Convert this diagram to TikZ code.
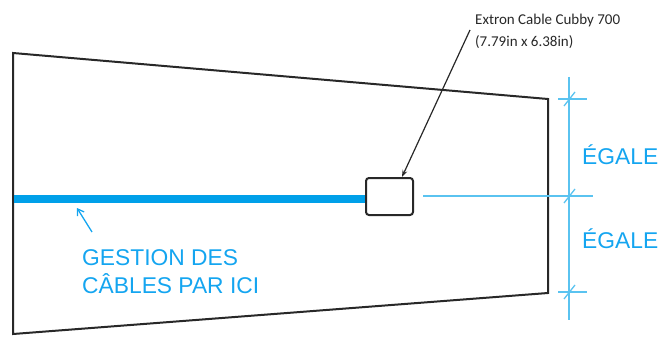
\documentclass[tikz,border=0pt]{standalone}
\usepackage{fontspec}
\setmainfont{Liberation Sans}
\newfontfamily\calib{Carlito}
\usetikzlibrary{arrows.meta}
\definecolor{cblue}{RGB}{0,160,233}
\definecolor{tblue}{RGB}{20,165,240}
\definecolor{dblue}{RGB}{90,195,240}
\definecolor{dgray}{RGB}{40,40,40}
\tikzset{
  outline/.style={draw=dgray, line width=2pt, line join=miter},
  dimline/.style={draw=dblue, line width=1.6pt},
  bluetext/.style={text=tblue, font=\fontsize{22.8}{28}\selectfont, inner sep=0pt, anchor=base west},
  notetext/.style={text=dgray, font=\calib\fontsize{15}{18}\selectfont, inner sep=0pt, anchor=base west},
  cubbybox/.style={draw=dgray, line width=2pt, rounded corners=3pt, minimum width=47pt, minimum height=37pt, inner sep=0pt, fill=white},
}
\begin{document}
\begin{tikzpicture}[x=1pt,y=-1pt]
\useasboundingbox (0,0) rectangle (659,337);
% trapezoid outline
\coordinate (tl) at (13,53);
\coordinate (tr) at (548,99);
\coordinate (br) at (548,293);
\coordinate (bl) at (13,334);
\draw[outline] (tl) -- (tr) -- (br) -- (bl) -- cycle;
% cubby box
\node[cubbybox] (cubby) at (389.5,196.5) {};
% thick cable line
\coordinate (cablestart) at (14,198.5);
\draw[draw=cblue, line width=8pt] (cablestart) -- (cubby.west |- cablestart);
% thin center line
\coordinate (midL) at (423,196);
\coordinate (midR) at (593,196);
\draw[dimline] (midL) -- (midR);
% dimension line
\coordinate (dtop) at (569,77);
\coordinate (dbot) at (569,320);
\draw[dimline] (dtop) -- (dbot);
\coordinate (t1L) at (558,99);  \coordinate (t1R) at (587,99);
\coordinate (t3L) at (558,292); \coordinate (t3R) at (587,292);
\draw[dimline] (t1L) -- (t1R);
\draw[dimline] (t3L) -- (t3R);
\foreach \yy in {99,196,292}{
  \draw[draw=dblue, line width=1.3pt] (564,\yy+7) -- (575,\yy-7);
}
% labels
\node[bluetext] (egale1) at (582,164) {ÉGALE};
\node[bluetext] (egale2) at (582,248) {ÉGALE};
\node[bluetext] (gest1) at (82,265) {GESTION DES};
\node[bluetext] (gest2) at (82,293) {CÂBLES PAR ICI};
\node[notetext] (note1) at (475,25) {Extron Cable Cubby 700};
\node[notetext] (note2) at (475,47) {(7.79in x 6.38in)};
% arrows
\coordinate (noteA) at (470,30);
\draw[draw=dgray, line width=1.2pt, -{Stealth[length=7pt,width=5pt]}] (noteA) -- (cubby.north -| 402,0);
\coordinate (gA) at (92,232);
\coordinate (gB) at (77,208);
\draw[draw=tblue, line width=1.3pt, -{Straight Barb[length=6pt,width=8pt]}] (gA) -- (gB);
\end{tikzpicture}
\end{document}
